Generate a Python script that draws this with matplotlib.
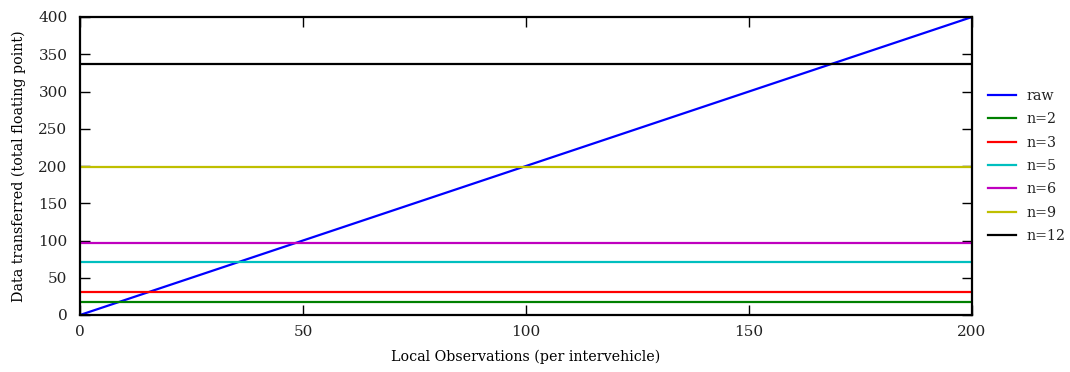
import matplotlib
matplotlib.use('Agg')
import matplotlib.pyplot as plt

# 데이터
raw_x = [0, 200]
raw_y = [0, 400]
labels = ['n=2', 'n=3', 'n=5', 'n=6', 'n=9', 'n=12']
levels = [17, 31, 71, 97, 199, 337]
colors = ['#008000', '#ff0000', '#00bfbf', '#bf00bf', '#bfbf00', '#000000']

plt.rcParams['font.family'] = ['DejaVu Serif']
plt.rcParams['font.size'] = 10.3
plt.rcParams['text.color'] = '#222222'
plt.rcParams['xtick.labelcolor'] = '#222222'
plt.rcParams['ytick.labelcolor'] = '#222222'

fig = plt.figure(figsize=(10.7, 3.72), dpi=100)
ax = fig.add_axes([80/1070, 1-315/372, 892/1070, 298/372])

ax.plot(raw_x, raw_y, color='#0000ff', lw=1.6, label='raw')
for lab, lv, c in zip(labels, levels, colors):
    ax.plot(raw_x, [lv, lv], color=c, lw=1.6, label=lab)

ax.set_xlim(0, 200)
ax.set_ylim(0, 400)
ax.set_xticks([0, 50, 100, 150, 200])
ax.set_yticks(range(0, 401, 50))
ax.tick_params(direction='in', length=7, width=1, top=True, right=True,
               labelsize=11)
ax.tick_params(axis='y', pad=9)
ax.tick_params(axis='x', pad=7)
for s in ax.spines.values():
    s.set_linewidth(1.6)

ax.set_xlabel('Local Observations (per intervehicle)', labelpad=8)
ax.set_ylabel('Data transferred (total floating point)', labelpad=9)

ax.legend(loc='center left', bbox_to_anchor=(1.003, 0.5), frameon=False,
          handlelength=2, handletextpad=0.7, labelspacing=0.65, fontsize=10.3)

fig.savefig('out.png', dpi=100)
